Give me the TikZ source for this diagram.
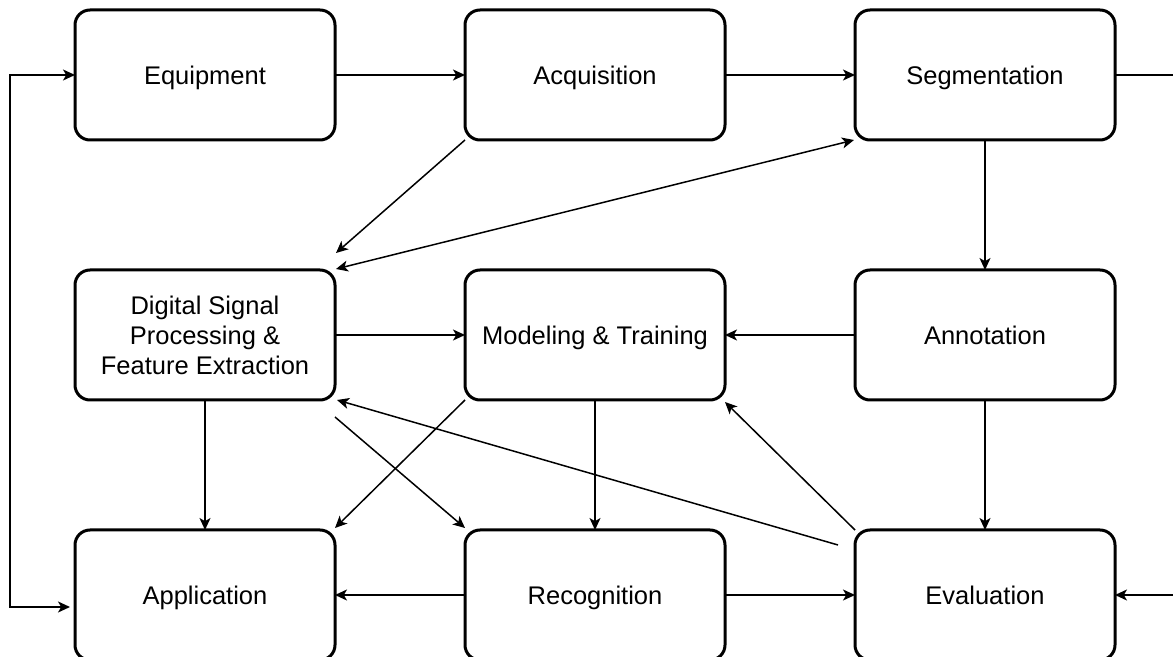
\documentclass[tikz,border=0pt]{standalone}
\usepackage{fontspec}
\setmainfont{Liberation Sans}
\usetikzlibrary{positioning,arrows.meta,calc}

\begin{document}
\begin{tikzpicture}[x=0.5pt, y=-0.5pt, node distance=65pt and 65pt,
    stage/.style = {draw, line width=1.5pt, rounded corners=7.5pt, outer sep=0pt,
      minimum width=130pt, minimum height=65pt, align=center,
      font=\fontsize{12.75}{15}\selectfont},
    label/.style = {stage, text height=9.2pt, text depth=0pt},
    link/.style = {line width=0.75pt, -{Stealth[length=6pt,width=5.5pt,inset=1.6pt]}}]
  \clip (0,0) rectangle (1173,657);
  % top row
  \node[label] (equip) at (205,75) {Equipment};
  \node[label, right=of equip] (acq) {Acquisition};
  \node[label, right=of acq] (seg) {Segmentation};
  % middle row
  \node[stage, below=of equip] (dsp) {Digital Signal\\Processing \&\\Feature Extraction};
  \node[label, below=of acq] (model) {Modeling \& Training};
  \node[label, below=of seg] (annot) {Annotation};
  % bottom row
  \node[label, below=of dsp] (app) {Application};
  \node[label, below=of model] (recog) {Recognition};
  \node[label, below=of annot] (eval) {Evaluation};
  % loose ends
  \coordinate (feedL) at (10,340);
  \coordinate (appIn) at (70,607);
  \coordinate (feedR) at (1180,335);

  \draw[link] (equip) -- (acq);
  \draw[link] (acq) -- (seg);
  \draw[link] (seg.east) -| (feedR) |- (eval.east);
  \draw[link] (feedL) |- (equip.west);
  \draw[link] (feedL) |- (appIn);
  \draw[link] (acq.south west) -- ($(dsp.north east)+(1,-17)$);
  \draw[link, {Stealth[length=6pt,width=5.5pt,inset=1.6pt]}-{Stealth[length=6pt,width=5.5pt,inset=1.6pt]}]
    ($(dsp.north east)+(1,-1)$) -- ($(seg.south west)+(-1,0)$);
  \draw[link] (seg) -- (annot);
  \draw[link] (dsp) -- (model);
  \draw[link] (annot) -- (model);
  \draw[link] (dsp) -- (app);
  \draw[link] (model) -- (recog);
  \draw[link] (annot) -- (eval);
  \draw[link] (model.south west) -- ($(app.north east)+(0,-2)$);
  \draw[link] ($(dsp.south east)+(0,17)$) -- ($(recog.north west)+(0,-2)$);
  \draw[link] ($(eval.north west)+(-17,15)$) -- ($(dsp.south east)+(2,0)$);
  \draw[link] (eval.north west) -- ($(model.south east)+(0,2)$);
  \draw[link] (recog) -- (app);
  \draw[link] (recog) -- (eval);
\end{tikzpicture}
\end{document}
